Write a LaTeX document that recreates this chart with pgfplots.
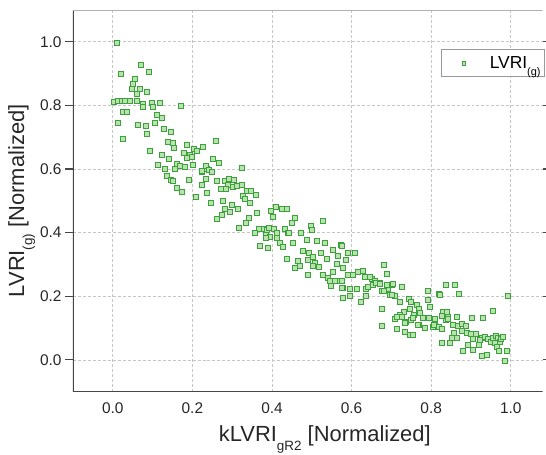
\documentclass[border=0pt]{standalone}
\usepackage{pgfplots}
\pgfplotsset{compat=1.18}
\usepackage{fontspec}
\setmainfont{Liberation Sans}
\definecolor{mkedge}{RGB}{60,160,60}
\definecolor{mkfill}{RGB}{185,226,175}
\definecolor{axdark}{RGB}{70,70,70}
\newcommand{\sub}[1]{\raisebox{-0.38em}{\fontsize{13.5}{14}\selectfont #1}}
\newcommand{\lsub}[1]{\raisebox{-0.38em}{\fontsize{11}{12}\selectfont #1}}
\begin{document}
\begin{tikzpicture}
\begin{axis}[
    name=ax,
    scale only axis,
    width=469.6bp, height=381.6bp,
    xmin=-0.1, xmax=1.08,
    ymin=-0.1, ymax=1.1,
    xtick={0,0.2,...,1.0},
    ytick={0,0.2,...,1.0},
    /pgf/number format/fixed,
    /pgf/number format/fixed zerofill,
    /pgf/number format/precision=1,
    /pgf/number format/assume math mode=true,
    ticklabel style={font=\fontsize{15.5}{18}\selectfont, text=black!85},
    axis line style={draw=none},
    tick align=outside,
    major tick length=8bp,
    xtick style={draw=none},
    ytick style={draw=axdark, line width=1.3pt},
    grid=major,
    grid style={densely dashed, gray!45, line width=0.6pt},
    xlabel={kLVRI\sub{gR2} [Normalized]},
    ylabel={LVRI\sub{(g)} [Normalized]},
    label style={font=\fontsize{22}{25}\selectfont, text=black!85},
    xlabel style={xshift=17bp, yshift=-5bp},
    ylabel style={yshift=-2bp},
    legend style={at={(1,1)}, anchor=north east, xshift=2.4bp, yshift=-39bp,
        draw=gray!80, line width=0.8pt, font=\fontsize{17.5}{20}\selectfont,
        inner xsep=2bp, inner ysep=5bp},
    legend image code/.code={%
        \path[draw=none, fill=none] (0bp,-4bp) rectangle (44bp,4bp);
        \draw[#1, mark size=1.8bp] plot coordinates {(20bp,0bp)};},
    legend cell align=left,
]
\addplot[only marks, mark=square*, mark size=2.5bp,
    mark options={draw=mkedge, fill=mkfill, line width=0.6pt}]
coordinates {
(0.011,0.998)(0.070,0.927)(0.021,0.899)(0.091,0.906)(0.056,0.885)
(0.051,0.867)(0.048,0.851)(0.068,0.851)(0.061,0.836)(0.086,0.842)
(0.003,0.811)(0.013,0.813)(0.022,0.813)(0.030,0.813)(0.043,0.813)
(0.060,0.813)(0.075,0.806)(0.097,0.808)(0.118,0.807)(0.171,0.799)
(0.076,0.797)(0.101,0.797)(0.026,0.780)(0.036,0.780)(0.110,0.771)
(0.124,0.761)(0.013,0.746)(0.064,0.738)(0.083,0.736)(0.106,0.746)
(0.128,0.725)(0.145,0.717)(0.086,0.711)(0.026,0.696)(0.139,0.686)
(0.152,0.682)(0.153,0.667)(0.185,0.677)(0.093,0.656)(0.179,0.652)
(0.193,0.644)(0.204,0.663)(0.212,0.656)(0.227,0.671)(0.187,0.635)
(0.198,0.638)(0.122,0.644)(0.141,0.631)(0.114,0.612)(0.131,0.602)
(0.162,0.617)(0.168,0.610)(0.181,0.607)(0.156,0.602)(0.200,0.614)
(0.136,0.579)(0.147,0.565)(0.192,0.565)(0.223,0.591)(0.235,0.602)
(0.234,0.570)(0.258,0.690)(0.252,0.631)(0.267,0.619)(0.234,0.610)
(0.223,0.593)(0.242,0.597)(0.248,0.591)(0.323,0.604)(0.150,0.562)
(0.223,0.551)(0.262,0.562)(0.281,0.562)(0.292,0.570)(0.304,0.567)
(0.290,0.549)(0.302,0.544)(0.311,0.547)(0.323,0.551)(0.160,0.541)
(0.173,0.528)(0.271,0.539)(0.284,0.537)(0.336,0.533)(0.348,0.530)
(0.359,0.518)(0.327,0.516)(0.332,0.505)(0.344,0.495)(0.235,0.526)
(0.209,0.513)(0.245,0.495)(0.276,0.500)(0.298,0.486)(0.281,0.474)
(0.294,0.465)(0.315,0.474)(0.363,0.463)(0.273,0.455)(0.262,0.444)
(0.342,0.447)(0.334,0.432)(0.317,0.415)(0.396,0.468)(0.410,0.481)
(0.424,0.474)(0.436,0.476)(0.403,0.450)(0.368,0.411)(0.379,0.413)
(0.388,0.408)(0.393,0.415)(0.405,0.411)(0.357,0.400)(0.384,0.394)
(0.394,0.387)(0.411,0.398)(0.432,0.411)(0.440,0.398)(0.369,0.360)
(0.390,0.353)(0.420,0.367)(0.428,0.355)(0.384,0.383)
(0.457,0.447)(0.449,0.431)(0.497,0.421)(0.499,0.408)(0.528,0.436)
(0.443,0.398)(0.472,0.398)(0.487,0.376)(0.513,0.373)(0.533,0.368)
(0.572,0.363)(0.453,0.368)(0.411,0.383)(0.478,0.342)(0.493,0.337)
(0.522,0.335)(0.554,0.345)(0.591,0.335)(0.608,0.336)(0.438,0.317)
(0.466,0.310)(0.491,0.313)(0.503,0.324)(0.508,0.306)(0.537,0.317)
(0.566,0.327)(0.585,0.313)(0.564,0.303)(0.457,0.289)(0.470,0.296)
(0.502,0.296)(0.518,0.292)(0.554,0.277)(0.579,0.289)(0.491,0.266)
(0.528,0.266)(0.541,0.258)(0.545,0.250)(0.558,0.250)(0.570,0.247)
(0.591,0.266)(0.604,0.268)(0.616,0.277)(0.629,0.279)(0.637,0.261)
(0.650,0.256)(0.658,0.247)(0.547,0.233)(0.579,0.226)(0.595,0.222)
(0.612,0.222)(0.636,0.224)(0.654,0.235)
(0.575,0.360)(0.682,0.300)(0.688,0.271)(0.633,0.261)(0.646,0.261)
(0.662,0.242)(0.671,0.242)(0.642,0.230)(0.677,0.216)(0.692,0.224)
(0.700,0.237)(0.696,0.203)(0.709,0.201)(0.725,0.230)(0.575,0.247)
(0.575,0.226)(0.636,0.201)(0.595,0.201)(0.577,0.195)(0.622,0.182)
(0.675,0.159)(0.720,0.182)(0.745,0.191)(0.748,0.182)(0.763,0.174)
(0.746,0.161)(0.731,0.151)(0.721,0.142)(0.709,0.128)(0.713,0.135)
(0.725,0.135)(0.792,0.216)(0.820,0.209)(0.837,0.237)(0.859,0.235)
(0.870,0.209)(0.792,0.188)(0.796,0.167)(0.770,0.159)(0.756,0.140)
(0.771,0.147)(0.780,0.131)(0.795,0.133)(0.809,0.128)(0.809,0.109)
(0.818,0.104)(0.803,0.104)(0.737,0.119)(0.748,0.125)(0.770,0.109)
(0.784,0.101)(0.837,0.151)(0.842,0.135)(0.838,0.125)(0.865,0.135)
(0.855,0.109)(0.868,0.107)(0.671,0.240)(0.689,0.235)(0.704,0.240)
(0.681,0.216)(0.700,0.205)(0.713,0.096)(0.734,0.088)(0.746,0.080)
(0.755,0.078)(0.675,0.107)(0.734,0.117)(0.755,0.132)(0.767,0.111)
(0.807,0.111)
(0.993,0.201)(0.822,0.205)(0.830,0.151)(0.840,0.151)(0.843,0.128)
(0.876,0.114)(0.887,0.107)(0.901,0.131)(0.929,0.132)(0.954,0.153)
(0.857,0.086)(0.847,0.052)(0.851,0.069)(0.826,0.099)(0.826,0.052)
(0.826,0.138)(0.876,0.090)(0.889,0.086)(0.899,0.083)(0.912,0.083)
(0.904,0.065)(0.893,0.048)(0.905,0.030)(0.880,0.027)(0.920,0.046)
(0.926,0.069)(0.935,0.072)(0.943,0.067)(0.949,0.058)(0.956,0.069)
(0.962,0.075)(0.968,0.069)(0.972,0.057)(0.976,0.065)(0.960,0.052)
(0.966,0.041)(0.971,0.027)(0.989,0.027)(0.985,-0.004)(0.926,0.013)
(0.939,0.015)(0.864,0.070)(0.922,0.062)(0.981,0.072)
};
\addlegendentry{LVRI\lsub{(g)}}
\draw[axdark, line width=1.5pt] (rel axis cs:0,1) -- (rel axis cs:0,0) -- (rel axis cs:1.01,0);
\draw[gray!60, line width=0.6pt] (rel axis cs:0,1) -- (rel axis cs:1.01,1);
\end{axis}
\pgfresetboundingbox
\useasboundingbox ([xshift=-73bp,yshift=-63bp]ax.south west) rectangle ([xshift=3.4bp,yshift=10bp]ax.north east);
\end{tikzpicture}
\end{document}
